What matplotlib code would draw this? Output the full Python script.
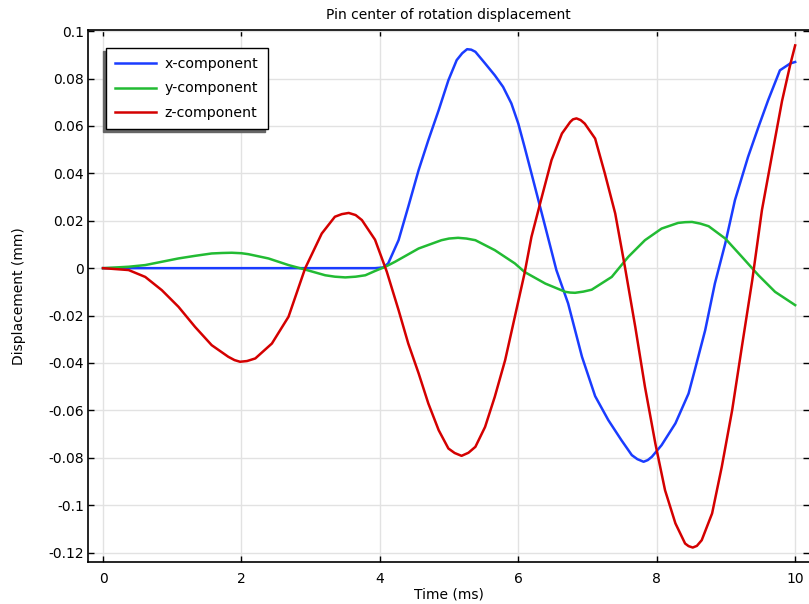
#!/usr/bin/env python3
# -*- coding: utf-8 -*-

import matplotlib
matplotlib.use('Agg')
import matplotlib.pyplot as plt

# values (time in ms, displacement in mm)
t_x = [0, 1, 2, 3, 3.93, 4.05, 4.12, 4.27, 4.41, 4.56, 4.70, 4.85, 4.99, 5.11, 5.19,
       5.26, 5.32, 5.38, 5.52, 5.66, 5.78, 5.90, 6.0, 6.09, 6.19, 6.29, 6.39, 6.55,
       6.72, 6.92, 7.11, 7.30, 7.49, 7.64, 7.72, 7.81, 7.87, 7.93, 8.07, 8.27, 8.46,
       8.55, 8.70, 8.84, 8.99, 9.13, 9.32, 9.47, 9.61, 9.78, 9.93, 10.0]
x_comp = [0, 0, 0, 0, 0, 0.0003, 0.002, 0.0118, 0.0259, 0.0414, 0.054, 0.0667, 0.0793,
          0.0878, 0.0907, 0.0924, 0.0922, 0.0913, 0.0864, 0.0814, 0.0765, 0.0695, 0.061,
          0.0512, 0.040, 0.0287, 0.0174, -0.0008, -0.0149, -0.0374, -0.054, -0.0641,
          -0.0726, -0.0789, -0.0806, -0.0817, -0.0810, -0.0796, -0.0747, -0.0655,
          -0.0529, -0.043, -0.0262, -0.0065, 0.0104, 0.0287, 0.047, 0.0596, 0.0709,
          0.0835, 0.0864, 0.087]

t_y = [0, 0.37, 0.61, 0.85, 1.09, 1.33, 1.57, 1.72, 1.86, 2.0, 2.10, 2.39, 2.68, 2.92,
       3.21, 3.35, 3.50, 3.65, 3.79, 3.93, 4.08, 4.22, 4.56, 4.89, 5.0, 5.13, 5.25,
       5.38, 5.66, 5.95, 6.09, 6.39, 6.68, 6.75, 6.82, 6.94, 7.06, 7.35, 7.59, 7.83,
       8.07, 8.31, 8.41, 8.51, 8.63, 8.75, 8.99, 9.23, 9.47, 9.71, 10.0]
y_comp = [0, 0.0006, 0.0013, 0.0027, 0.0041, 0.0052, 0.0062, 0.0064, 0.0065, 0.0063,
          0.0059, 0.0041, 0.0013, -0.0006, -0.003, -0.0036, -0.0039, -0.0036, -0.003,
          -0.0012, 0.0006, 0.0027, 0.0083, 0.0118, 0.0125, 0.0128, 0.0125, 0.0118,
          0.0076, 0.002, -0.0016, -0.0065, -0.010, -0.0103, -0.0104, -0.0099, -0.0091,
          -0.0037, 0.0048, 0.0118, 0.0167, 0.0191, 0.0194, 0.0195, 0.0188, 0.0177,
          0.0125, 0.0048, -0.003, -0.010, -0.0156]

t_z = [0, 0.37, 0.61, 0.85, 1.09, 1.33, 1.57, 1.81, 1.90, 1.98, 2.08, 2.20, 2.44, 2.68,
       2.92, 3.16, 3.35, 3.45, 3.55, 3.65, 3.74, 3.93, 4.10, 4.27, 4.41, 4.56, 4.70,
       4.85, 4.99, 5.08, 5.18, 5.28, 5.38, 5.52, 5.66, 5.81, 5.95, 6.09, 6.19, 6.34,
       6.48, 6.63, 6.75, 6.79, 6.84, 6.90, 6.96, 7.11, 7.25, 7.40, 7.54, 7.69, 7.83,
       7.98, 8.12, 8.27, 8.41, 8.46, 8.52, 8.58, 8.65, 8.80, 8.94, 9.09, 9.23, 9.38,
       9.52, 9.67, 9.81, 9.93, 10.0]
z_comp = [0, -0.0008, -0.0037, -0.0093, -0.0163, -0.0248, -0.0325, -0.0374, -0.0388,
          -0.0395, -0.0392, -0.0381, -0.0318, -0.0205, -0.0001, 0.0146, 0.0217, 0.0228,
          0.0233, 0.0224, 0.0203, 0.0120, -0.0015, -0.0177, -0.0318, -0.0444, -0.0571,
          -0.0684, -0.0761, -0.0780, -0.0792, -0.0779, -0.0754, -0.067, -0.0543,
          -0.0388, -0.0205, -0.0022, 0.0132, 0.0301, 0.0456, 0.0568, 0.0617, 0.0628,
          0.0632, 0.0625, 0.061, 0.0547, 0.040, 0.0231, 0.0006, -0.0248, -0.0501,
          -0.074, -0.0937, -0.1077, -0.1162, -0.1173, -0.1179, -0.1172, -0.1148,
          -0.1035, -0.0838, -0.0599, -0.0332, -0.0051, 0.0245, 0.0484, 0.0705, 0.086,
          0.094]

series = [('x-component', t_x, x_comp, '#1a3cff'),
          ('y-component', t_y, y_comp, '#22bb33'),
          ('z-component', t_z, z_comp, '#d40000')]

x_ticks = [0, 2, 4, 6, 8, 10]
y_ticks = [0.1, 0.08, 0.06, 0.04, 0.02, 0, -0.02, -0.04, -0.06, -0.08, -0.1, -0.12]
y_tick_labels = ['0.1', '0.08', '0.06', '0.04', '0.02', '0', '-0.02', '-0.04',
                 '-0.06', '-0.08', '-0.1', '-0.12']

plt.rcParams['font.family'] = 'DejaVu Sans'
plt.rcParams['font.size'] = 10

fig = plt.figure(figsize=(8.09, 6.04), dpi=100)
ax = fig.add_axes([88 / 809, 42 / 604, 721 / 809, 532 / 604])

for name, t, v, c in series:
    ax.plot(t, v, color=c, lw=1.8, label=name, solid_joinstyle='round')

ax.set_xlim(-0.217, 10.2)
ax.set_ylim(-0.124, 0.1005)
ax.set_xticks(x_ticks)
ax.set_yticks(y_ticks)
ax.set_yticklabels(y_tick_labels)
ax.grid(True, color='#e2e2e2', lw=1)
ax.set_axisbelow(True)
ax.tick_params(direction='in', length=4.5, width=1, top=True, right=True,
               colors='black', labelsize=10)
ax.tick_params(axis='x', pad=7)
ax.tick_params(axis='y', pad=3)
ax.spines['right'].set_visible(False)
for s in ['left', 'bottom', 'top']:
    ax.spines[s].set_linewidth(1.2)

ax.set_title('Pin center of rotation displacement', fontsize=10, pad=8)
ax.set_xlabel('Time (ms)', labelpad=1)
ax.set_ylabel('Displacement (mm)', labelpad=16)

leg = ax.legend(loc='upper left', bbox_to_anchor=(0.025, 0.966), borderaxespad=0,
                fancybox=False, edgecolor='black', framealpha=1,
                shadow={'ox': -2, 'oy': -2, 'color': '0.4', 'alpha': 1},
                handlelength=2.9, handletextpad=0.6, labelspacing=0.72,
                borderpad=0.65, fontsize=10.2)
leg.get_frame().set_linewidth(1)

fig.savefig('out.png', dpi=100)
